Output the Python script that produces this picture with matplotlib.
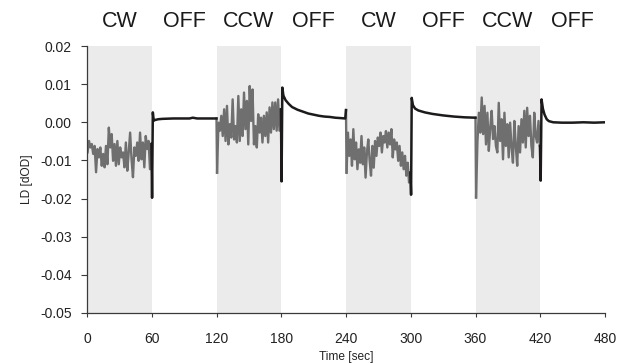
import numpy as np
import matplotlib
matplotlib.use("Agg")
import matplotlib.pyplot as plt

plt.rcParams['font.family'] = ['Liberation Sans', 'DejaVu Sans']

# ---- data (values in mOD, i.e. x 0.001 dOD) ----
phase_labels = ["CW", "OFF", "CCW", "OFF", "CW", "OFF", "CCW", "OFF"]
phase_edges = [0, 60, 120, 180, 240, 300, 360, 420, 480]
x_ticks = [0, 60, 120, 180, 240, 300, 360, 420, 480]
y_ticks = [0.02, 0.01, 0.00, -0.01, -0.02, -0.03, -0.04, -0.05]
y_ticklabels = ["0.02", "0.01", "0.00", "-0.01", "-0.02", "-0.03", "-0.04", "-0.05"]

# rotation ON (shaded) segments: noisy signal, uniformly sampled
on1 = [-7.9, -4.9, -6.6, -5.7, -8.3, -6.2, -13.1, -7.0, -9.2, -6.6, -11.4, -8.3,
       -11.8, -6.2, -11.0, -1.4, -6.6, -3.1, -10.1, -5.7, -11.4, -4.9, -11.0,
       -6.6, -9.2, -7.9, -11.8, -5.3, -12.7, -7.9, -2.7, -9.7, -14.4,
       -6.6, -8.8, -5.3, -10.1, -2.7, -9.7, -5.3, -11.8, -3.6, -7.0, -4.9, -12.3, -5.7]
on2 = [-13.2, -0.1, -2.2, 1.7, -3.6, 3.4, -4.9, 4.3, -5.8, -0.5, -4.0, 6.0, -4.5,
       -1.0, -5.3, 6.9, -4.9, 3.4, -3.6, 7.8, -1.8, 5.6, -5.8, 9.5, 0.35, 8.6, -5.8,
       -1.0, -6.6, 2.1, -2.7, 1.2, -5.3, 1.7, -3.6, 2.6, -5.3, 3.9, -2.7, 5.2, -1.8,
       5.2, -2.2, 6.0, -2.2, 3.4]
on3 = [-13.2, -2.7, -8.8, -4.5, -11.4, -1.8, -9.7, -5.3, -12.3, -7.1, -10.6, -3.6,
       -11.0, -6.6, -14.5, -7.9, -4.5, -10.1, -14.0, -6.2, -11.9, -4.9, -8.8, -4.0,
       -6.2, -2.7, -7.9, -3.6, -5.3, -2.3, -6.6, -2.7, -5.8, -1.8, -9.2, -4.5, -7.1,
       -5.3, -10.1, -6.2, -11.4, -7.9, -12.3, -8.8, -14.0, -10.6, -15.8, -13.2]
on4 = [-19.7, -4.9, 2.5, -2.7, 6.5, -3.1, 4.3, -5.8, 2.5, -7.5, -1.4, 3.0, -4.4,
       -1.0, -6.2, -7.9, 5.1, -4.9, 0.8, -9.7, 2.5, -6.2, -0.5, -9.2, -0.1, -6.6,
       -10.6, 0.35, -6.2, -11.4, -1.0, -7.9, 0.8, -5.3, 3.0, -6.6, 3.8, -3.6, 1.7,
       -6.2, -9.2, 2.5, -3.6, -5.3, 0.35, -6.2]

# rotation OFF segments: relaxation traces (time [s], value [mOD])
off1_t = [60.3, 61.0, 61.8, 63, 66, 70, 80, 95, 98, 102, 110, 120]
off1_v = [-19.8, 2.6, 0.4, 0.6, 0.8, 0.9, 1.0, 1.0, 1.2, 1.0, 1.0, 1.0]
off2_t = [180.3, 181.0, 182, 184, 187, 190, 195, 200, 205, 210, 215, 220, 225, 230, 235, 239.3, 240]
off2_v = [-15.5, 9.1, 7.0, 5.8, 4.8, 4.0, 3.3, 2.8, 2.3, 2.0, 1.7, 1.5, 1.4, 1.2, 1.1, 1.0, 3.2]
off3_t = [300.3, 300.9, 302, 304, 307, 313, 320, 330, 340, 350, 360]
off3_v = [-19.0, 6.4, 4.5, 3.6, 3.1, 2.6, 2.2, 1.8, 1.5, 1.3, 1.2]
off4_t = [420.4, 421.2, 422.5, 424, 426, 428, 432, 440, 450, 460, 470, 480]
off4_v = [-15.3, 6.0, 3.5, 2.0, 0.8, 0.3, 0.0, -0.1, -0.1, 0.0, -0.1, 0.0]

on_segments = [(0, on1), (120, on2), (240, on3), (360, on4)]
off_segments = [(off1_t, off1_v), (off2_t, off2_v), (off3_t, off3_v), (off4_t, off4_v)]

# ---- figure ----
fig = plt.figure(figsize=(6.18, 3.63), dpi=100)
ax = fig.add_axes([87 / 618, 1 - 313 / 363, 518 / 618, (313 - 46) / 363])

for start in phase_edges[0:-1:2]:
    ax.axvspan(start, start + 60, color="#ebebeb", lw=0, zorder=0)

gray = "#6f6f6f"
black = "#1c1a1a"
for (start, vals), (ot, ov) in zip(on_segments, off_segments):
    vals = np.asarray(vals) / 1000.0
    t = np.linspace(start + 0.5, start + 59.7, len(vals))
    ax.plot(t, vals, color=gray, lw=1.7, solid_joinstyle="round", zorder=2)
    # connect the end of the ON segment to the OFF trace
    ot2 = np.r_[t[-1], ot]
    ov2 = np.r_[vals[-1], np.asarray(ov) / 1000.0]
    ax.plot(ot2, ov2, color=black, lw=1.8, solid_joinstyle="round", zorder=3)
    # connect the end of the OFF trace to the next ON segment
    nxt = [s for s in on_segments if s[0] == start + 120]
    if nxt:
        ax.plot([ot[-1], start + 120.5], [ov[-1] / 1000.0, nxt[0][1][0] / 1000.0],
                color=gray, lw=1.7, zorder=2)

ax.set_xlim(0, 480)
ax.set_ylim(-0.05, 0.02)
ax.set_xticks(x_ticks)
ax.set_xticklabels([str(v) for v in x_ticks])
ax.set_yticks(y_ticks)
ax.set_yticklabels(y_ticklabels)

for side in ("top", "right"):
    ax.spines[side].set_visible(False)
for side in ("left", "bottom"):
    ax.spines[side].set_color("#3a3a3a")
    ax.spines[side].set_linewidth(0.9)

ax.tick_params(axis="y", direction="out", length=4, width=0.8, color="#3a3a3a",
               labelsize=10, pad=7, labelcolor="#222222")
ax.tick_params(axis="x", direction="out", length=3, width=0.8, color="#3a3a3a",
               labelsize=10, pad=11, labelcolor="#222222")

ax.set_xlabel("Time [sec]", fontsize=8.6, labelpad=3, color="#222222")
ax.set_ylabel("LD [dOD]", fontsize=8.6, labelpad=5, color="#222222")

for i, lab in enumerate(phase_labels):
    cx = (phase_edges[i] + phase_edges[i + 1]) / 2
    ax.text(cx, 0.0265, lab, ha="center", va="center", fontsize=15.5,
            color="#1a1a1a", clip_on=False)

fig.savefig("out.png", dpi=100)
